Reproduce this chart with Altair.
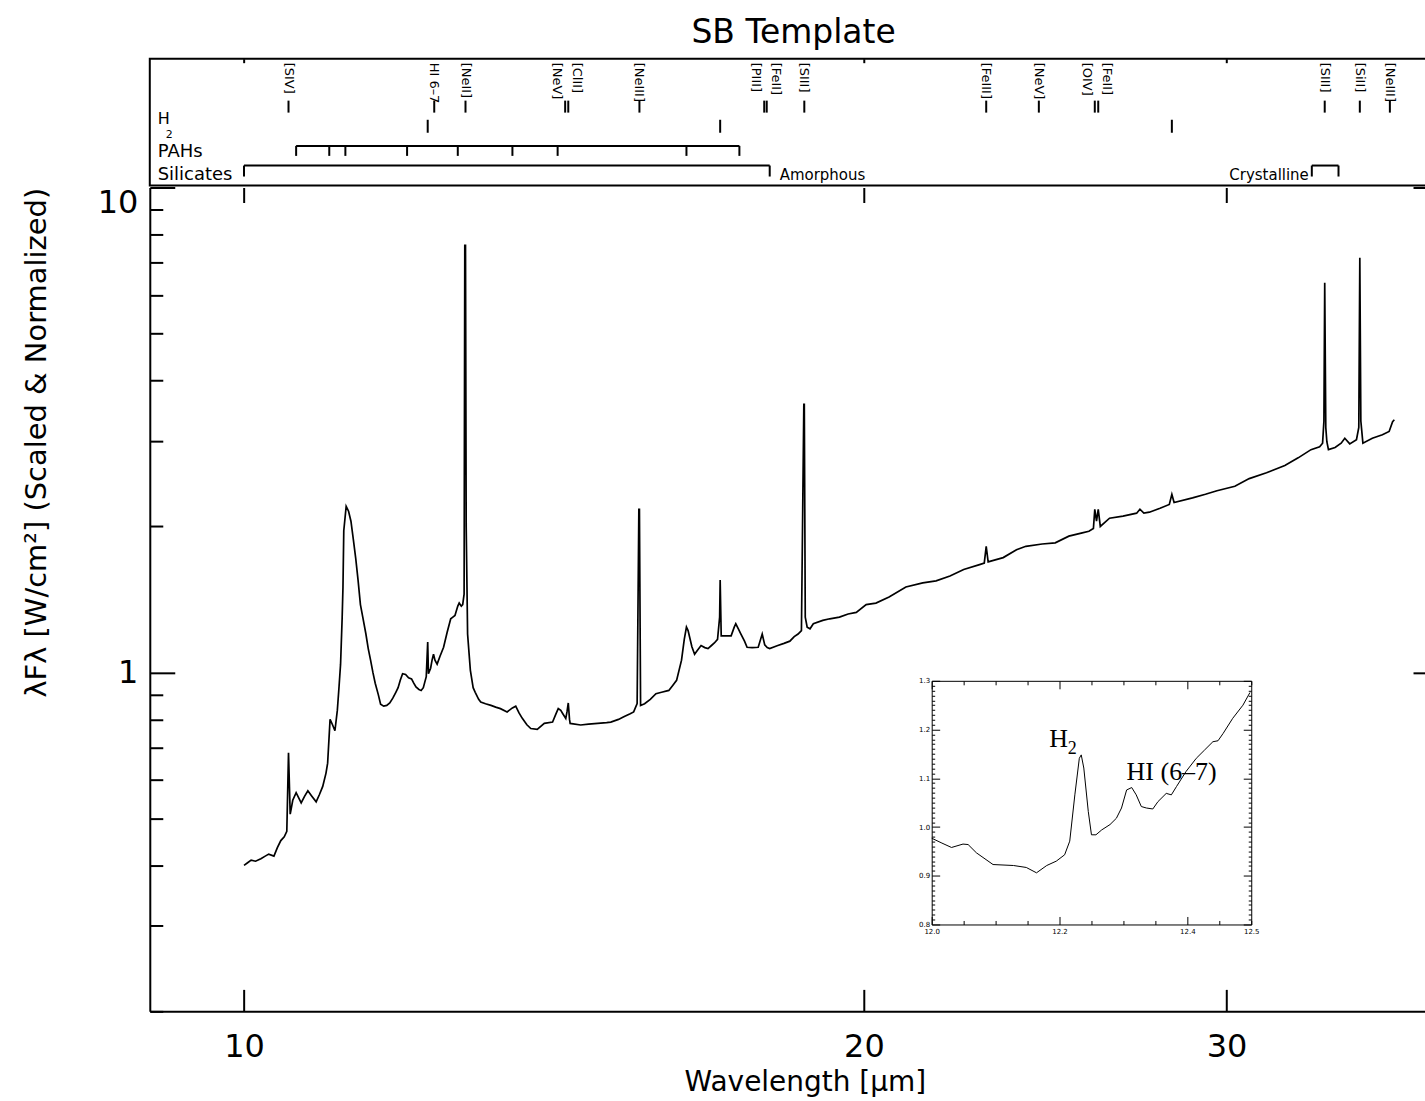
import altair as alt
import pandas as pd

# ---------------- spectrum (main panel) ----------------
wave = [10.00, 10.04, 10.08, 10.13, 10.19, 10.24, 10.28, 10.34, 10.38, 10.42,
        10.46, 10.49, 10.51, 10.53, 10.56, 10.60, 10.66, 10.70, 10.74, 10.79,
        10.84, 10.88, 10.92, 10.96, 10.98, 11.01, 11.04, 11.07, 11.10, 11.12,
        11.14, 11.16, 11.17, 11.18, 11.21, 11.24, 11.27, 11.30, 11.33, 11.36,
        11.39, 11.42, 11.46, 11.49, 11.52, 11.55, 11.58, 11.62, 11.65, 11.69,
        11.73, 11.77, 11.81, 11.85, 11.88, 11.91, 11.94, 11.98, 12.02, 12.06,
        12.09, 12.12, 12.16, 12.19, 12.22, 12.24, 12.26, 12.28, 12.29, 12.32,
        12.34, 12.36, 12.38, 12.41, 12.45, 12.50, 12.55, 12.60, 12.63, 12.66,
        12.70, 12.72, 12.75, 12.77, 12.79, 12.80, 12.81, 12.82, 12.84, 12.86,
        12.88, 12.92, 12.95, 13.00, 13.03, 13.10, 13.18, 13.25, 13.32, 13.42,
        13.50, 13.55, 13.60, 13.65, 13.72, 13.78, 13.88, 13.99, 14.12, 14.18,
        14.21, 14.25, 14.28, 14.33, 14.35, 14.37, 14.39, 14.40, 14.57, 14.70,
        14.85, 15.00, 15.07, 15.20, 15.29, 15.40, 15.46, 15.52, 15.55, 15.56,
        15.58, 15.65, 15.75, 15.85, 15.95, 16.08, 16.15, 16.22, 16.31, 16.36,
        16.40, 16.43, 16.46, 16.50, 16.55, 16.60, 16.67, 16.74, 16.80, 16.86,
        16.92, 16.98, 17.02, 17.03, 17.05, 17.15, 17.24, 17.30, 17.33, 17.38,
        17.43, 17.50, 17.55, 17.65, 17.77, 17.85, 17.90, 17.95, 18.00, 18.15,
        18.29, 18.41, 18.50, 18.58, 18.65, 18.70, 18.71, 18.73, 18.77, 18.83,
        18.90, 19.10, 19.25, 19.46, 19.65, 19.83, 20.05, 20.27, 20.57, 20.96,
        21.36, 21.68, 22.02, 22.36, 22.78, 22.88, 22.93, 22.98, 23.37, 23.72,
        23.97, 24.41, 24.77, 25.15, 25.53, 25.72, 25.85, 25.89, 25.94, 25.99,
        26.05, 26.32, 26.72, 27.13, 27.23, 27.35, 27.52, 27.85, 28.14, 28.22,
        28.29, 28.88, 29.30, 29.68, 30.28, 30.77, 31.37, 32.02, 32.50, 32.97,
        33.29, 33.40, 33.45, 33.48, 33.52, 33.56, 33.62, 33.87, 34.10, 34.24,
        34.43, 34.69, 34.78, 34.82, 34.86, 34.94, 35.31, 35.71, 35.98, 36.12,
        36.19]
flux = [0.400, 0.405, 0.410, 0.408, 0.413, 0.418, 0.422, 0.418, 0.435, 0.450,
        0.458, 0.470, 0.683, 0.510, 0.545, 0.565, 0.538, 0.555, 0.570, 0.555,
        0.541, 0.560, 0.582, 0.620, 0.650, 0.800, 0.780, 0.758, 0.836, 0.930,
        1.040, 1.300, 1.500, 1.960, 2.200, 2.150, 2.050, 1.880, 1.720, 1.550,
        1.380, 1.300, 1.200, 1.120, 1.060, 1.000, 0.950, 0.900, 0.860, 0.852,
        0.855, 0.865, 0.885, 0.910, 0.930, 0.965, 0.994, 0.990, 0.975, 0.970,
        0.950, 0.933, 0.922, 0.918, 0.930, 0.955, 0.980, 1.155, 0.994, 1.020,
        1.060, 1.090, 1.060, 1.040, 1.080, 1.127, 1.210, 1.290, 1.300, 1.310,
        1.370, 1.390, 1.370, 1.380, 1.450, 7.600, 7.600, 2.000, 1.200, 1.100,
        1.010, 0.930, 0.910, 0.880, 0.869, 0.862, 0.855, 0.848, 0.842, 0.829,
        0.845, 0.852, 0.825, 0.804, 0.780, 0.766, 0.763, 0.785, 0.790, 0.825,
        0.842, 0.835, 0.823, 0.804, 0.830, 0.865, 0.800, 0.785, 0.779, 0.782,
        0.785, 0.788, 0.790, 0.800, 0.810, 0.822, 0.829, 0.862, 2.170, 2.170,
        0.855, 0.862, 0.880, 0.904, 0.910, 0.918, 0.940, 0.963, 1.060, 1.170,
        1.240, 1.220, 1.180, 1.130, 1.090, 1.110, 1.136, 1.125, 1.120, 1.135,
        1.150, 1.170, 1.300, 1.550, 1.190, 1.190, 1.190, 1.240, 1.260, 1.230,
        1.200, 1.160, 1.127, 1.125, 1.127, 1.200, 1.140, 1.125, 1.120, 1.135,
        1.148, 1.160, 1.185, 1.200, 1.220, 3.570, 3.570, 1.300, 1.240, 1.230,
        1.260, 1.280, 1.290, 1.300, 1.320, 1.330, 1.380, 1.390, 1.430, 1.500,
        1.530, 1.545, 1.580, 1.630, 1.670, 1.680, 1.820, 1.690, 1.725, 1.790,
        1.820, 1.840, 1.850, 1.910, 1.940, 1.955, 1.980, 2.170, 2.050, 2.170,
        2.000, 2.080, 2.100, 2.130, 2.170, 2.130, 2.140, 2.180, 2.220, 2.330,
        2.240, 2.290, 2.330, 2.370, 2.420, 2.510, 2.580, 2.670, 2.770, 2.880,
        2.920, 2.970, 3.300, 6.360, 3.200, 2.990, 2.880, 2.910, 2.970, 3.040,
        2.960, 3.020, 3.200, 7.160, 3.300, 2.970, 3.040, 3.090, 3.140, 3.290,
        3.320]
assert len(wave) == len(flux)

# ---------------- inset (zoom on 12.0 - 12.5 um) ----------------
inset_wave = [12.000, 12.016, 12.031, 12.049, 12.057, 12.070, 12.096, 12.128, 12.148, 12.164,
              12.180, 12.195, 12.208, 12.216, 12.224, 12.231, 12.234, 12.238, 12.245, 12.250,
              12.257, 12.266, 12.279, 12.289, 12.297, 12.305, 12.313, 12.320, 12.328, 12.336,
              12.346, 12.354, 12.367, 12.375, 12.383, 12.398, 12.414, 12.427, 12.440, 12.448,
              12.456, 12.471, 12.487, 12.498]
inset_flux = [0.977, 0.967, 0.958, 0.965, 0.964, 0.947, 0.923, 0.921, 0.917, 0.906,
              0.921, 0.930, 0.943, 0.971, 1.066, 1.141, 1.148, 1.121, 1.032, 0.984,
              0.984, 0.994, 1.005, 1.018, 1.039, 1.076, 1.081, 1.066, 1.042, 1.039,
              1.037, 1.052, 1.069, 1.066, 1.083, 1.114, 1.141, 1.158, 1.175, 1.177,
              1.192, 1.223, 1.250, 1.276]
inset_note_text = ["H", "2", "HI (6\u20137)"]
inset_note_x = [12.184, 12.220, 12.305]
inset_note_y = [1.181, 1.160, 1.112]

# ---------------- line identifications (top panel) ----------------
line_names = ["[SIV]", "HI 6\u20137", "[NeII]", "[NeV]", "[ClII]", "[NeIII]", "[PIII]", "[FeII]",
              "[SIII]", "[FeIII]", "[NeV]", "[OIV]", "[FeII]", "[SIII]", "[SiII]", "[NeIII]"]
line_wave = [10.51, 12.37, 12.81, 14.32, 14.37, 15.56, 17.89, 17.94,
             18.71, 22.93, 24.32, 25.89, 25.99, 33.48, 34.82, 36.01]
line_side = ["center", "center", "center", "left", "right", "center", "left", "right",
             "center", "center", "center", "left", "right", "center", "center", "center"]
h2_wave = [12.28, 17.03, 28.22]
pah_wave = [10.6, 11.0, 11.2, 12.0, 12.7, 13.5, 14.2, 16.4, 17.4]
sil_start = [10.0, 33.0]
sil_end = [18.0, 34.0]
row_names = ["lines", "H2", "PAHs", "Silicates"]
row_label_x = 9.08

# ---------------- ticks ----------------
x_tick_values = [10, 20, 30]
y_tick_values = [0.2, 0.3, 0.4, 0.5, 0.6, 0.7, 0.8, 0.9, 1, 2, 3, 4, 5, 6, 7, 8, 9, 10]
inset_x_labels = [12.0, 12.2, 12.4, 12.5]
inset_y_labels = [0.8, 0.9, 1.0, 1.1, 1.2, 1.3]
inset_x_ticks = [round(12.0 + 0.05 * i, 2) for i in range(11)]
inset_y_ticks = [round(0.8 + 0.01 * i, 2) for i in range(51)]

FONT = "DejaVu Sans"
W, H, TH = 1290, 825, 127

x_scale = alt.Scale(type="log", domain=[9.0, 38.0], nice=False)
y_scale = alt.Scale(type="log", domain=[0.2, 10.0], nice=False)
ix_scale = alt.Scale(domain=[12.0, 12.5], range=[783, 1103], nice=False, zero=False)
iy_scale = alt.Scale(domain=[0.8, 1.3], range=[738, 494], nice=False, zero=False)
row_scale = alt.Scale(type="point", domain=row_names, range=[48, 107], padding=0)

spec = pd.DataFrame({"wave": wave, "flux": flux})
ins = pd.DataFrame({"iw": inset_wave, "iflux": inset_flux})
notes = pd.DataFrame({"t": inset_note_text, "nx": inset_note_x, "ny": inset_note_y})


def cond(test, major, minor):
    return {"condition": {"test": test, "value": major}, "value": minor}


Y_MAJOR = "datum.value == 1 || datum.value == 10"
IX_MAJOR = "abs(datum.value * 5 - round(datum.value * 5)) < 0.001"
IY_MAJOR = "abs(datum.value * 10 - round(datum.value * 10)) < 0.001"

# ---------------- main panel ----------------
m_line = alt.Chart(spec).mark_line(color="black", strokeWidth=1.7).encode(
    x=alt.X("wave:Q", scale=x_scale, axis=alt.Axis(
        orient="bottom", values=x_tick_values, format="d", ticks=False,
        domainWidth=2, labelPadding=20, labelFontSize=32,
        title="Wavelength [\u03bcm]", titleFontSize=28, titlePadding=6, titleX=656)),
    y=alt.Y("flux:Q", scale=y_scale, axis=alt.Axis(
        orient="left", values=[1, 10], format="d", ticks=False, domainWidth=2,
        labelPadding=12, labelFontSize=32, labelFlush=True,
        title="\u03bbF\u03bb [W/cm\u00b2] (Scaled & Normalized)", titleFontSize=29,
        titlePadding=46, titleY=255)),
)
m_ticks_a = alt.Chart(spec).mark_line(opacity=0).encode(
    x=alt.X("wave:Q", scale=x_scale, axis=alt.Axis(
        orient="top", offset=-H, values=x_tick_values, labels=False, domain=False,
        tickSize=22, tickWidth=2, title=None)),
    y=alt.Y("flux:Q", scale=y_scale, axis=alt.Axis(
        orient="right", offset=-W, values=y_tick_values, labels=False, domain=False,
        tickSize=cond(Y_MAJOR, 25, 13), tickWidth=2, title=None)),
)
m_ticks_b = alt.Chart(spec).mark_line(opacity=0).encode(
    x=alt.X("wave:Q", scale=x_scale, axis=alt.Axis(
        orient="bottom", offset=-H, values=x_tick_values, labels=False, domain=False,
        tickSize=15, tickWidth=2, title=None)),
    y=alt.Y("flux:Q", scale=y_scale, axis=alt.Axis(
        orient="left", offset=-W, values=y_tick_values, labels=False, domainWidth=2,
        tickSize=cond(Y_MAJOR, 25, 13), tickWidth=2, title=None)),
)
main_group = alt.layer(m_line, m_ticks_a, m_ticks_b).resolve_axis(x="independent", y="independent")

# ---------------- inset ----------------
i_line = alt.Chart(ins).mark_line(color="black", strokeWidth=1).encode(
    x=alt.X("iw:Q", scale=ix_scale, axis=alt.Axis(
        orient="bottom", offset=738 - H, values=inset_x_labels, format=".1f", ticks=False,
        domainWidth=1, labelFontSize=7, labelPadding=3, labelFlush=False, title=None)),
    y=alt.Y("iflux:Q", scale=iy_scale, axis=alt.Axis(
        orient="left", offset=-783, values=inset_y_labels, format=".1f", ticks=False,
        domainWidth=1, labelFontSize=7, labelPadding=2, labelFlush=False, title=None)),
)
i_ticks_a = alt.Chart(ins).mark_line(opacity=0).encode(
    x=alt.X("iw:Q", scale=ix_scale, axis=alt.Axis(
        orient="top", offset=-738, values=inset_x_ticks, labels=False, domain=False,
        tickSize=cond(IX_MAJOR, 8, 4), tickWidth=1, title=None)),
    y=alt.Y("iflux:Q", scale=iy_scale, axis=alt.Axis(
        orient="right", offset=783 - W, values=inset_y_ticks, labels=False, domain=False,
        tickSize=cond(IY_MAJOR, 8, 3), tickWidth=1, title=None)),
)
i_ticks_b = alt.Chart(ins).mark_line(opacity=0).encode(
    x=alt.X("iw:Q", scale=ix_scale, axis=alt.Axis(
        orient="bottom", offset=494 - H, values=inset_x_ticks, labels=False, domainWidth=1,
        tickSize=cond(IX_MAJOR, 8, 4), tickWidth=1, title=None)),
    y=alt.Y("iflux:Q", scale=iy_scale, axis=alt.Axis(
        orient="left", offset=-1103, values=inset_y_ticks, labels=False, domainWidth=1,
        tickSize=cond(IY_MAJOR, 8, 3), tickWidth=1, title=None)),
)
i_notes = alt.Chart(notes).transform_filter("datum.t != '2'").mark_text(
    font="Liberation Serif", fontSize=26, align="left", baseline="middle", color="black"
).encode(x=alt.X("nx:Q", scale=ix_scale, axis=None),
         y=alt.Y("ny:Q", scale=iy_scale, axis=None), text="t:N")
i_sub = alt.Chart(notes).transform_filter("datum.t == '2'").mark_text(
    font="Liberation Serif", fontSize=18, align="center", baseline="middle", color="black"
).encode(x=alt.X("nx:Q", scale=ix_scale, axis=None),
         y=alt.Y("ny:Q", scale=iy_scale, axis=None), text="t:N")
inset_group = alt.layer(i_line, i_ticks_a, i_ticks_b, i_notes, i_sub).resolve_axis(
    x="independent", y="independent")

main = alt.layer(main_group, inset_group).resolve_scale(
    x="independent", y="independent").properties(width=W, height=H)

# ---------------- top (line identification) panel ----------------
lines_df = pd.DataFrame({"w": line_wave, "name": line_names, "side": line_side, "row": "lines"})
h2_df = pd.DataFrame({"w": h2_wave, "row": "H2"})
pah_df = pd.DataFrame({"w": pah_wave, "row": "PAHs"})
pah_span = pd.DataFrame({"w0": [min(pah_wave)], "w1": [max(pah_wave)], "row": ["PAHs"]})
sil_span = pd.DataFrame({"w0": sil_start, "w1": sil_end, "row": "Silicates",
                         "name": ["Amorphous", "Crystalline"]})
sil_ends = pd.DataFrame({"w": sil_start + sil_end, "row": "Silicates"})
row_lab = pd.DataFrame({"t": ["H", "PAHs", "Silicates"], "row": ["H2", "PAHs", "Silicates"],
                        "w": row_label_x})

XN = alt.X("w:Q", scale=x_scale, axis=None)
YN = alt.Y("row:N", scale=row_scale, axis=None)

t_line_ticks = alt.Chart(lines_df).mark_tick(color="black", thickness=2, size=12, opacity=1).encode(
    x=alt.X("w:Q", scale=x_scale, axis=alt.Axis(
        orient="bottom", offset=-TH, values=x_tick_values, labels=False, tickSize=4,
        tickWidth=2, domain=False, title=None)),
    y=YN,
)
t_h2 = alt.Chart(h2_df).mark_tick(color="black", thickness=2, size=13, opacity=1).encode(x=XN, y=YN)
t_pah_rule = alt.Chart(pah_span).mark_rule(color="black", strokeWidth=2).encode(
    x=alt.X("w0:Q", scale=x_scale, axis=None), x2="w1:Q", y=YN)
t_pah_ticks = alt.Chart(pah_df).mark_tick(
    color="black", thickness=2, size=10, opacity=1, yOffset=5).encode(x=XN, y=YN)
t_sil_rule = alt.Chart(sil_span).mark_rule(color="black", strokeWidth=2).encode(
    x=alt.X("w0:Q", scale=x_scale, axis=None), x2="w1:Q", y=YN)
t_sil_ticks = alt.Chart(sil_ends).mark_tick(
    color="black", thickness=2, size=11, opacity=1, yOffset=5.5).encode(x=XN, y=YN)

label_layers = []
for side, dx in [("left", -8), ("center", 0), ("right", 9)]:
    label_layers.append(
        alt.Chart(lines_df).transform_filter(f"datum.side == '{side}'").mark_text(
            font=FONT, fontSize=13, angle=90, align="left", baseline="middle",
            color="black", xOffset=dx, yOffset=-44).encode(x=XN, y=YN, text="name:N"))

t_row_h = alt.Chart(row_lab).transform_filter("datum.row == 'H2'").mark_text(
    font=FONT, fontSize=16, align="left", baseline="middle", color="black", yOffset=-7
).encode(x=XN, y=YN, text="t:N")
t_row_h_sub = alt.Chart(row_lab).transform_filter("datum.row == 'H2'").mark_text(
    font=FONT, fontSize=11, align="left", baseline="middle", color="black",
    xOffset=8, yOffset=9).encode(x=XN, y=YN, text=alt.value("2"))
t_row_pah = alt.Chart(row_lab).transform_filter("datum.row == 'PAHs'").mark_text(
    font=FONT, fontSize=18, align="left", baseline="middle", color="black", yOffset=6
).encode(x=XN, y=YN, text="t:N")
t_row_sil = alt.Chart(row_lab).transform_filter("datum.row == 'Silicates'").mark_text(
    font=FONT, fontSize=18, align="left", baseline="middle", color="black", yOffset=9
).encode(x=XN, y=YN, text="t:N")
t_amorph = alt.Chart(sil_span).transform_filter("datum.name == 'Amorphous'").mark_text(
    font=FONT, fontSize=15, align="left", baseline="middle", color="black",
    xOffset=10, yOffset=9).encode(x=alt.X("w1:Q", scale=x_scale, axis=None), y=YN, text="name:N")
t_cryst = alt.Chart(sil_span).transform_filter("datum.name == 'Crystalline'").mark_text(
    font=FONT, fontSize=15, align="right", baseline="middle", color="black",
    xOffset=-3, yOffset=9).encode(x=alt.X("w0:Q", scale=x_scale, axis=None), y=YN, text="name:N")

top = alt.layer(
    t_line_ticks, t_h2, t_pah_rule, t_pah_ticks, t_sil_rule, t_sil_ticks,
    *label_layers, t_row_h, t_row_h_sub, t_row_pah, t_row_sil, t_amorph, t_cryst
).resolve_axis(x="independent", y="independent").properties(
    width=W, height=TH, view=alt.ViewBackground(stroke="black", strokeWidth=2))

chart = alt.vconcat(top, main, spacing=0).resolve_scale(
    x="independent", y="independent"
).properties(
    title=alt.TitleParams("SB Template", fontSize=33, font=FONT, fontWeight="normal",
                          anchor="middle", dx=63, offset=7, color="black"),
    padding={"left": 22, "top": 16, "right": -14, "bottom": 1},
    background="white",
).configure_view(stroke=None).configure_axis(
    grid=False, labelColor="black", tickColor="black", domainColor="black",
    titleColor="black", labelFont=FONT, titleFont=FONT, titleFontWeight="normal",
    minExtent=0,
)

chart.save("out.html", embed_options={"renderer": "svg", "actions": False})
